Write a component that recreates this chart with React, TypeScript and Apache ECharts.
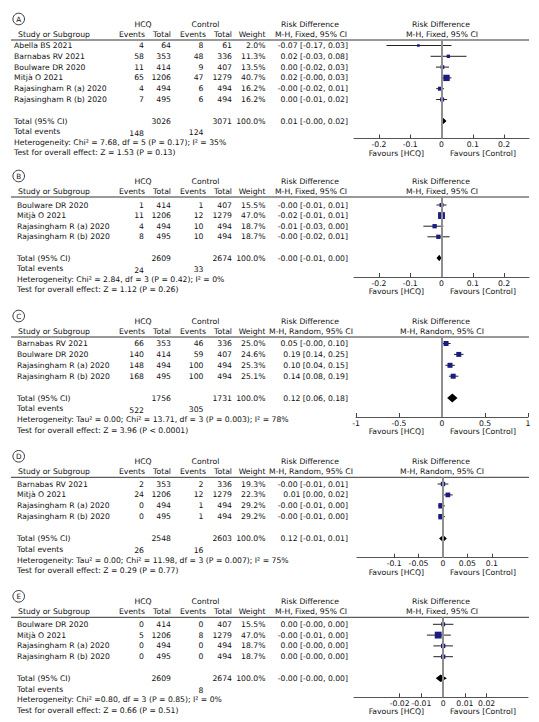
import React, { useEffect, useRef } from "react";
import * as echarts from "echarts";

const FONT = "DejaVu Sans";
const FS = 7.7;
const TXT = "#111";

// ---------- Panel A ----------
const studiesA = ["Abella BS 2021", "Barnabas RV 2021", "Boulware DR 2020", "Mitjà O 2021", "Rajasingham R (a) 2020", "Rajasingham R (b) 2020"];
const hcqEventsA = [4, 58, 11, 65, 4, 7];
const hcqTotalA = [64, 353, 414, 1206, 494, 495];
const ctlEventsA = [8, 48, 9, 47, 6, 6];
const ctlTotalA = [61, 336, 407, 1279, 494, 494];
const weightA = [2.0, 11.3, 13.5, 40.7, 16.2, 16.2];
const rdTextA = ["-0.07 [-0.17, 0.03]", "0.02 [-0.03, 0.08]", "0.00 [-0.02, 0.03]", "0.02 [-0.00, 0.03]", "-0.00 [-0.02, 0.01]", "0.00 [-0.01, 0.02]"];
const estA = [-0.074, 0.022, 0.003, 0.016, -0.005, 0.002];
const loA = [-0.176, -0.035, -0.018, 0.003, -0.017, -0.017];
const hiA = [0.032, 0.08, 0.024, 0.032, 0.008, 0.018];
const totalA = { hcqN: 3026, ctlN: 3071, rd: "0.01 [-0.00, 0.02]", est: 0.006, lo: -0.002, hi: 0.016, evH: "148", evC: "124" };
const hetA = "Heterogeneity: Chi² = 7.68, df = 5 (P = 0.17); I² = 35%";
const testA = "Test for overall effect: Z = 1.53 (P = 0.13)";
const ticksA = [-0.2, -0.1, 0, 0.1, 0.2];
const rangeA = [-0.28, 0.28];

// ---------- Panel B ----------
const studiesB = ["Boulware DR 2020", "Mitjà O 2021", "Rajasingham R (a) 2020", "Rajasingham R (b) 2020"];
const hcqEventsB = [1, 11, 4, 8];
const hcqTotalB = [414, 1206, 494, 495];
const ctlEventsB = [1, 12, 10, 10];
const ctlTotalB = [407, 1279, 494, 494];
const weightB = [15.5, 47.0, 18.7, 18.7];
const rdTextB = ["-0.00 [-0.01, 0.01]", "-0.02 [-0.01, 0.01]", "-0.01 [-0.03, 0.00]", "-0.00 [-0.02, 0.01]"];
const estB = [0.0, 0.0, -0.022, -0.01];
const loB = [-0.016, -0.01, -0.058, -0.045];
const hiB = [0.016, 0.01, 0.006, 0.026];
const totalB = { hcqN: 2609, ctlN: 2674, rd: "-0.00 [-0.01, 0.00]", est: -0.007, lo: -0.016, hi: 0.0, evH: "24", evC: "33" };
const hetB = "Heterogeneity: Chi² = 2.84, df = 3 (P = 0.42); I² = 0%";
const testB = "Test for overall effect: Z = 1.12 (P = 0.26)";
const ticksB = [-0.2, -0.1, 0, 0.1, 0.2];
const rangeB = [-0.28, 0.28];

// ---------- Panel C ----------
const studiesC = ["Barnabas RV 2021", "Boulware DR 2020", "Rajasingham R (a) 2020", "Rajasingham R (b) 2020"];
const hcqEventsC = [66, 140, 148, 168];
const hcqTotalC = [353, 414, 494, 495];
const ctlEventsC = [46, 59, 100, 100];
const ctlTotalC = [336, 407, 494, 494];
const weightC = [25.0, 24.6, 25.3, 25.1];
const rdTextC = ["0.05 [-0.00, 0.10]", "0.19 [0.14, 0.25]", "0.10 [0.04, 0.15]", "0.14 [0.08, 0.19]"];
const estC = [0.047, 0.195, 0.093, 0.13];
const loC = [0.0, 0.14, 0.04, 0.08];
const hiC = [0.10, 0.25, 0.15, 0.19];
const totalC = { hcqN: 1756, ctlN: 1731, rd: "0.12 [0.06, 0.18]", est: 0.12, lo: 0.06, hi: 0.18, evH: "522", evC: "305" };
const hetC = "Heterogeneity: Tau² = 0.00; Chi² = 13.71, df = 3 (P = 0.003); I² = 78%";
const testC = "Test for overall effect: Z = 3.96 (P < 0.0001)";
const ticksC = [-1, -0.5, 0, 0.5, 1];
const rangeC = [-1, 1];

// ---------- Panel D ----------
const studiesD = ["Barnabas RV 2021", "Mitjà O 2021", "Rajasingham R (a) 2020", "Rajasingham R (b) 2020"];
const hcqEventsD = [2, 24, 0, 0];
const hcqTotalD = [353, 1206, 494, 495];
const ctlEventsD = [2, 12, 1, 1];
const ctlTotalD = [336, 1279, 494, 494];
const weightD = [19.3, 22.3, 29.2, 29.2];
const rdTextD = ["-0.00 [-0.01, 0.01]", "0.01 [0.00, 0.02]", "-0.00 [-0.01, 0.00]", "-0.00 [-0.01, 0.00]"];
const estD = [0.0, 0.01, -0.004, -0.004];
const loD = [-0.011, 0.002, -0.01, -0.01];
const hiD = [0.011, 0.02, 0.004, 0.004];
const totalD = { hcqN: 2548, ctlN: 2603, rd: "0.12 [-0.01, 0.01]", est: 0.0, lo: -0.008, hi: 0.008, evH: "26", evC: "16" };
const hetD = "Heterogeneity: Tau² = 0.00; Chi² = 11.98, df = 3 (P = 0.007); I² = 75%";
const testD = "Test for overall effect: Z = 0.29 (P = 0.77)";
const ticksD = [-0.1, -0.05, 0, 0.05, 0.1];
const rangeD = [-0.176, 0.174];

// ---------- Panel E ----------
const studiesE = ["Boulware DR 2020", "Mitjà O 2021", "Rajasingham R (a) 2020", "Rajasingham R (b) 2020"];
const hcqEventsE = [0, 5, 0, 0];
const hcqTotalE = [414, 1206, 494, 495];
const ctlEventsE = [0, 8, 0, 0];
const ctlTotalE = [407, 1279, 494, 494];
const weightE = [15.5, 47.0, 18.7, 18.7];
const rdTextE = ["0.00 [-0.00, 0.00]", "-0.00 [-0.01, 0.00]", "0.00 [-0.00, 0.00]", "0.00 [-0.00, 0.00]"];
const estE = [0.0, -0.0023, 0.0, 0.0];
const loE = [-0.0047, -0.0075, -0.0045, -0.0045];
const hiE = [0.0047, 0.0035, 0.0045, 0.0045];
const totalE = { hcqN: 2609, ctlN: 2674, rd: "-0.00 [-0.00, 0.00]", est: -0.0012, lo: -0.0034, hi: 0.0017, evH: "", evC: "8" };
const hetE = "Heterogeneity: Chi² =0.80, df = 3 (P = 0.85); I² = 0%";
const testE = "Test for overall effect: Z = 0.66 (P = 0.51)";
const ticksE = [-0.02, -0.01, 0, 0.01, 0.02];
const rangeE = [-0.041, 0.039];

const panels = [
  { letter: "A", model: "Fixed", studies: studiesA, hE: hcqEventsA, hN: hcqTotalA, cE: ctlEventsA, cN: ctlTotalA, w: weightA, rd: rdTextA, est: estA, lo: loA, hi: hiA, tot: totalA, het: hetA, test: testA, ticks: ticksA, range: rangeA },
  { letter: "B", model: "Fixed", studies: studiesB, hE: hcqEventsB, hN: hcqTotalB, cE: ctlEventsB, cN: ctlTotalB, w: weightB, rd: rdTextB, est: estB, lo: loB, hi: hiB, tot: totalB, het: hetB, test: testB, ticks: ticksB, range: rangeB },
  { letter: "C", model: "Random", studies: studiesC, hE: hcqEventsC, hN: hcqTotalC, cE: ctlEventsC, cN: ctlTotalC, w: weightC, rd: rdTextC, est: estC, lo: loC, hi: hiC, tot: totalC, het: hetC, test: testC, ticks: ticksC, range: rangeC },
  { letter: "D", model: "Random", studies: studiesD, hE: hcqEventsD, hN: hcqTotalD, cE: ctlEventsD, cN: ctlTotalD, w: weightD, rd: rdTextD, est: estD, lo: loD, hi: hiD, tot: totalD, het: hetD, test: testD, ticks: ticksD, range: rangeD },
  { letter: "E", model: "Fixed", studies: studiesE, hE: hcqEventsE, hN: hcqTotalE, cE: ctlEventsE, cN: ctlTotalE, w: weightE, rd: rdTextE, est: estE, lo: loE, hi: hiE, tot: totalE, het: hetE, test: testE, ticks: ticksE, range: rangeE },
];

// layout (pixels)
const LAYOUT = [
  { rule: 40, row0: 45.5, step: 10.8, axis: 138.5, left: 354, right: 529, nameX: 14, diaH: 3 },
  { rule: 197, row0: 205, step: 10.6, axis: 277, left: 354, right: 529, nameX: 17, diaH: 3.2 },
  { rule: 337, row0: 343.5, step: 10.9, axis: 417, left: 356, right: 528, nameX: 17, diaH: 4.5 },
  { rule: 477.3, row0: 484, step: 10.9, axis: 557.7, left: 357, right: 528, nameX: 17, diaH: 3.5 },
  { rule: 617.3, row0: 624.3, step: 10.8, axis: 697.3, left: 354, right: 528, nameX: 17, diaH: 3.8 },
];
const COL = { hE: 144, hN: 171, cE: 203.5, cN: 232, w: 265.5, rd: 348, hcqC: 143, ctlC: 205.5, rdC: 310, plotC: 441, favL: 424, favR: 450 };

function txt(text: string, x: number, y: number, align: string = "left") {
  return {
    type: "text",
    x,
    y,
    silent: true,
    style: { text, fill: TXT, fontSize: FS, fontFamily: FONT, align, verticalAlign: "middle" },
  };
}

function buildOption() {
  const grids: any[] = [];
  const xAxes: any[] = [];
  const yAxes: any[] = [];
  const series: any[] = [];
  const graphics: any[] = [];

  panels.forEach((p, i) => {
    const L = LAYOUT[i];
    const n = p.studies.length;
    const yMin = -(L.row0 - L.rule) / L.step;
    const yMax = (L.axis - L.row0) / L.step;
    grids.push({ left: L.left, width: L.right - L.left, top: L.rule, height: L.axis - L.rule });
    xAxes.push({
      type: "value",
      gridIndex: i,
      min: p.range[0],
      max: p.range[1],
      position: "bottom",
      axisLine: { show: true, onZero: false, lineStyle: { color: "#555", width: 1 } },
      axisTick: { show: true, inside: true, length: 4, customValues: p.ticks, lineStyle: { color: "#444" } },
      axisLabel: { show: true, customValues: p.ticks, fontSize: FS, fontFamily: FONT, color: TXT, margin: 2, formatter: (v: number) => String(v) },
      splitLine: { show: false },
    });
    yAxes.push({ type: "value", gridIndex: i, min: yMin, max: yMax, inverse: true, show: false });

    const rows: number[][] = p.studies.map((_, k) => [p.est[k], p.lo[k], p.hi[k], k, p.w[k], 0]);
    rows.push([p.tot.est, p.tot.lo, p.tot.hi, n + 1, 100, 1]);
    const diaH = L.diaH;
    series.push({
      type: "custom",
      xAxisIndex: i,
      yAxisIndex: i,
      silent: true,
      data: rows,
      renderItem: (params: any, api: any) => {
        const est = api.value(0), lo = api.value(1), hi = api.value(2), r = api.value(3), w = api.value(4), kind = api.value(5);
        const c = api.coord([est, r]);
        const cl = api.coord([lo, r]);
        const ch = api.coord([hi, r]);
        if (kind === 1) {
          return {
            type: "polygon",
            shape: { points: [[cl[0], c[1]], [c[0], c[1] - diaH], [ch[0], c[1]], [c[0], c[1] + diaH]] },
            style: { fill: "#000" },
          };
        }
        const s = Math.max(2.6, Math.sqrt(w));
        return {
          type: "group",
          children: [
            { type: "line", shape: { x1: cl[0], y1: c[1], x2: ch[0], y2: c[1] }, style: { stroke: "#222", lineWidth: 1 } },
            { type: "rect", shape: { x: c[0] - s / 2, y: c[1] - s / 2, width: s, height: s }, style: { fill: "#1c1c80" } },
          ],
        };
      },
      markLine: {
        silent: true,
        symbol: "none",
        label: { show: false },
        lineStyle: { color: "#8f8f8f", width: 2, type: "solid" },
        data: [{ xAxis: 0 }],
      },
      z: 3,
    });

    // header
    const hy1 = L.rule - 16;
    const hy2 = L.rule - 6;
    graphics.push({
      type: "circle",
      shape: { cx: 18.7, cy: L.rule - 21, r: 5.8 },
      style: { fill: "none", stroke: "#222", lineWidth: 0.9 },
      silent: true,
    });
    graphics.push({
      type: "text",
      x: 18.7,
      y: L.rule - 21,
      silent: true,
      style: { text: p.letter, fill: TXT, fontSize: 7.2, fontFamily: FONT, align: "center", verticalAlign: "middle" },
    });
    graphics.push(txt("HCQ", COL.hcqC, hy1, "center"));
    graphics.push(txt("Control", COL.ctlC, hy1, "center"));
    graphics.push(txt("Risk Difference", COL.rdC, hy1, "center"));
    graphics.push(txt("Risk Difference", COL.plotC, hy1, "center"));
    graphics.push(txt("Study or Subgroup", 18, hy2));
    graphics.push(txt("Events", COL.hE + 1, hy2, "right"));
    graphics.push(txt("Total", COL.hN, hy2, "right"));
    graphics.push(txt("Events", COL.cE + 2.5, hy2, "right"));
    graphics.push(txt("Total", COL.cN, hy2, "right"));
    graphics.push(txt("Weight", COL.w, hy2, "right"));
    graphics.push(txt(`M-H, ${p.model}, 95% CI`, COL.rdC + 1, hy2, "center"));
    graphics.push(txt(`M-H, ${p.model}, 95% CI`, COL.plotC + 1, hy2, "center"));
    graphics.push({
      type: "line",
      silent: true,
      shape: { x1: 11, y1: L.rule, x2: 529, y2: L.rule },
      style: { stroke: "#333", lineWidth: 1 },
    });

    // rows
    p.studies.forEach((s, k) => {
      const y = L.row0 + k * L.step;
      graphics.push(txt(s, L.nameX, y));
      graphics.push(txt(String(p.hE[k]), COL.hE, y, "right"));
      graphics.push(txt(String(p.hN[k]), COL.hN, y, "right"));
      graphics.push(txt(String(p.cE[k]), COL.cE, y, "right"));
      graphics.push(txt(String(p.cN[k]), COL.cN, y, "right"));
      graphics.push(txt(p.w[k].toFixed(1) + "%", COL.w, y, "right"));
      graphics.push(txt(p.rd[k], COL.rd, y, "right"));
    });

    // totals
    const ty = L.row0 + (n + 1) * L.step;
    graphics.push(txt("Total (95% CI)", L.nameX, ty));
    graphics.push(txt(String(p.tot.hcqN), COL.hN, ty, "right"));
    graphics.push(txt(String(p.tot.ctlN), COL.cN, ty, "right"));
    graphics.push(txt("100.0%", COL.w, ty, "right"));
    graphics.push(txt(p.tot.rd, COL.rd, ty, "right"));
    const ey = L.row0 + (n + 2) * L.step;
    graphics.push(txt("Total events", L.nameX, ey));
    if (p.tot.evH) graphics.push(txt(p.tot.evH, COL.hE, ey + 1.5, "right"));
    graphics.push(txt(p.tot.evC, COL.cE, ey + 1, "right"));
    graphics.push(txt(p.het, L.nameX, L.row0 + (n + 3) * L.step));
    graphics.push(txt(p.test, L.nameX, L.row0 + (n + 3.95) * L.step));

    // favours
    const fy = L.axis + 14.5;
    graphics.push(txt("Favours [HCQ]", COL.favL, fy, "right"));
    graphics.push(txt("Favours [Control]", COL.favR, fy, "left"));
  });

  return {
    animation: false,
    backgroundColor: "#fff",
    grid: grids,
    xAxis: xAxes,
    yAxis: yAxes,
    series,
    graphic: { elements: graphics },
  };
}

export default function App() {
  const ref = useRef<HTMLDivElement>(null);
  useEffect(() => {
    if (!ref.current) return;
    const chart = echarts.init(ref.current, undefined, { renderer: "svg" });
    chart.setOption(buildOption() as any);
    return () => chart.dispose();
  }, []);
  return <div ref={ref} style={{ position: "fixed", left: 0, top: 0, width: 539, height: 722 }} />;
}
